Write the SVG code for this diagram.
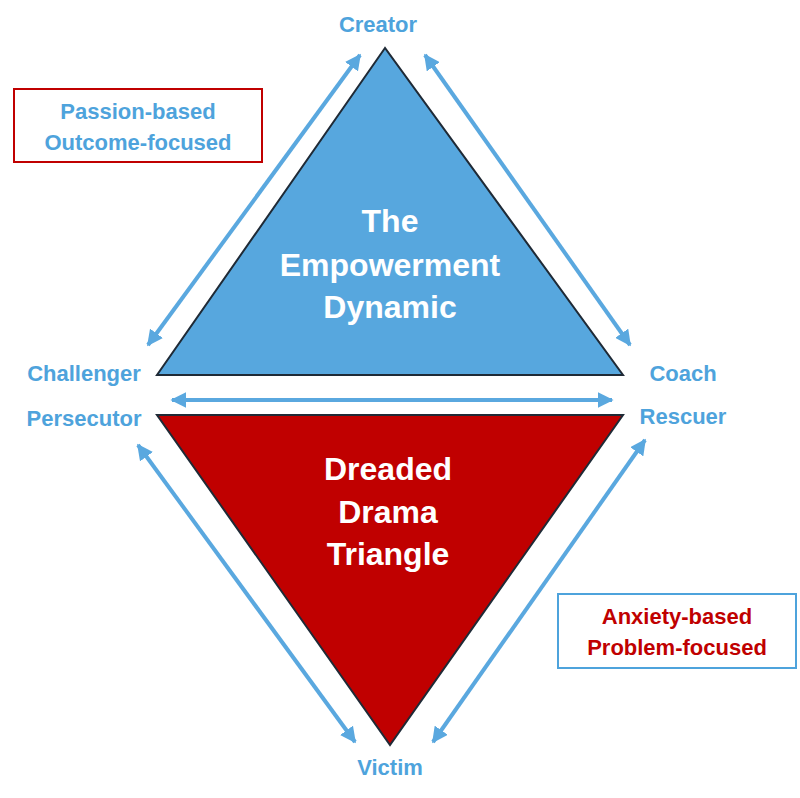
<svg xmlns="http://www.w3.org/2000/svg" width="800" height="798" viewBox="0 0 800 798">
<defs>
<marker id="ah" viewBox="0 0 10 10" refX="9" refY="5" markerWidth="4" markerHeight="4" orient="auto-start-reverse"><path d="M0,0 L10,5 L0,10 z" fill="#5AA8DF"/></marker>
<style>
.lbl{font-family:"Liberation Sans",Arial,sans-serif;font-weight:bold;font-size:22px;fill:#4EA3DC;text-anchor:middle}
.big{font-family:"Liberation Sans",Arial,sans-serif;font-weight:bold;font-size:32px;fill:#fff;text-anchor:middle}
.con{stroke:#5AA8DF;stroke-width:4;fill:none;marker-start:url(#ah);marker-end:url(#ah)}
</style>
</defs>
<rect width="800" height="798" fill="#fff"/>
<g id="empowerment">
<polygon points="385,48 157,375 623,375" fill="#57A7DE" stroke="#1F2A36" stroke-width="2"/>
<text class="big" x="390" y="232">The</text>
<text class="big" x="390" y="276">Empowerment</text>
<text class="big" x="390" y="318">Dynamic</text>
</g>
<g id="drama">
<polygon points="157,415 623,415 390,745" fill="#C00000" stroke="#1F2A36" stroke-width="2"/>
<text class="big" x="388" y="480">Dreaded</text>
<text class="big" x="388" y="523">Drama</text>
<text class="big" x="388" y="565">Triangle</text>
</g>
<g id="connectors">
<line class="con" x1="148" y1="345" x2="360" y2="55"/>
<line class="con" x1="425" y1="55" x2="630" y2="345"/>
<line class="con" x1="172" y1="400" x2="612" y2="400"/>
<line class="con" x1="138" y1="445" x2="355" y2="742"/>
<line class="con" x1="645" y1="440" x2="433" y2="742"/>
</g>
<g id="creator"><text class="lbl" x="378" y="32">Creator</text></g>
<g id="challenger"><text class="lbl" x="84" y="381">Challenger</text></g>
<g id="coach"><text class="lbl" x="683" y="381">Coach</text></g>
<g id="persecutor"><text class="lbl" x="84" y="426">Persecutor</text></g>
<g id="rescuer"><text class="lbl" x="683" y="424">Rescuer</text></g>
<g id="victim"><text class="lbl" x="390" y="775">Victim</text></g>
<g id="passion">
<rect x="14" y="89" width="248" height="73" fill="#fff" stroke="#C00000" stroke-width="2"/>
<text class="lbl" x="138" y="119">Passion-based</text>
<text class="lbl" x="138" y="150">Outcome-focused</text>
</g>
<g id="anxiety">
<rect x="558" y="594" width="238" height="74" fill="#fff" stroke="#4EA3DC" stroke-width="2"/>
<text class="lbl" x="677" y="624" style="fill:#C00000">Anxiety-based</text>
<text class="lbl" x="677" y="655" style="fill:#C00000">Problem-focused</text>
</g>
</svg>
